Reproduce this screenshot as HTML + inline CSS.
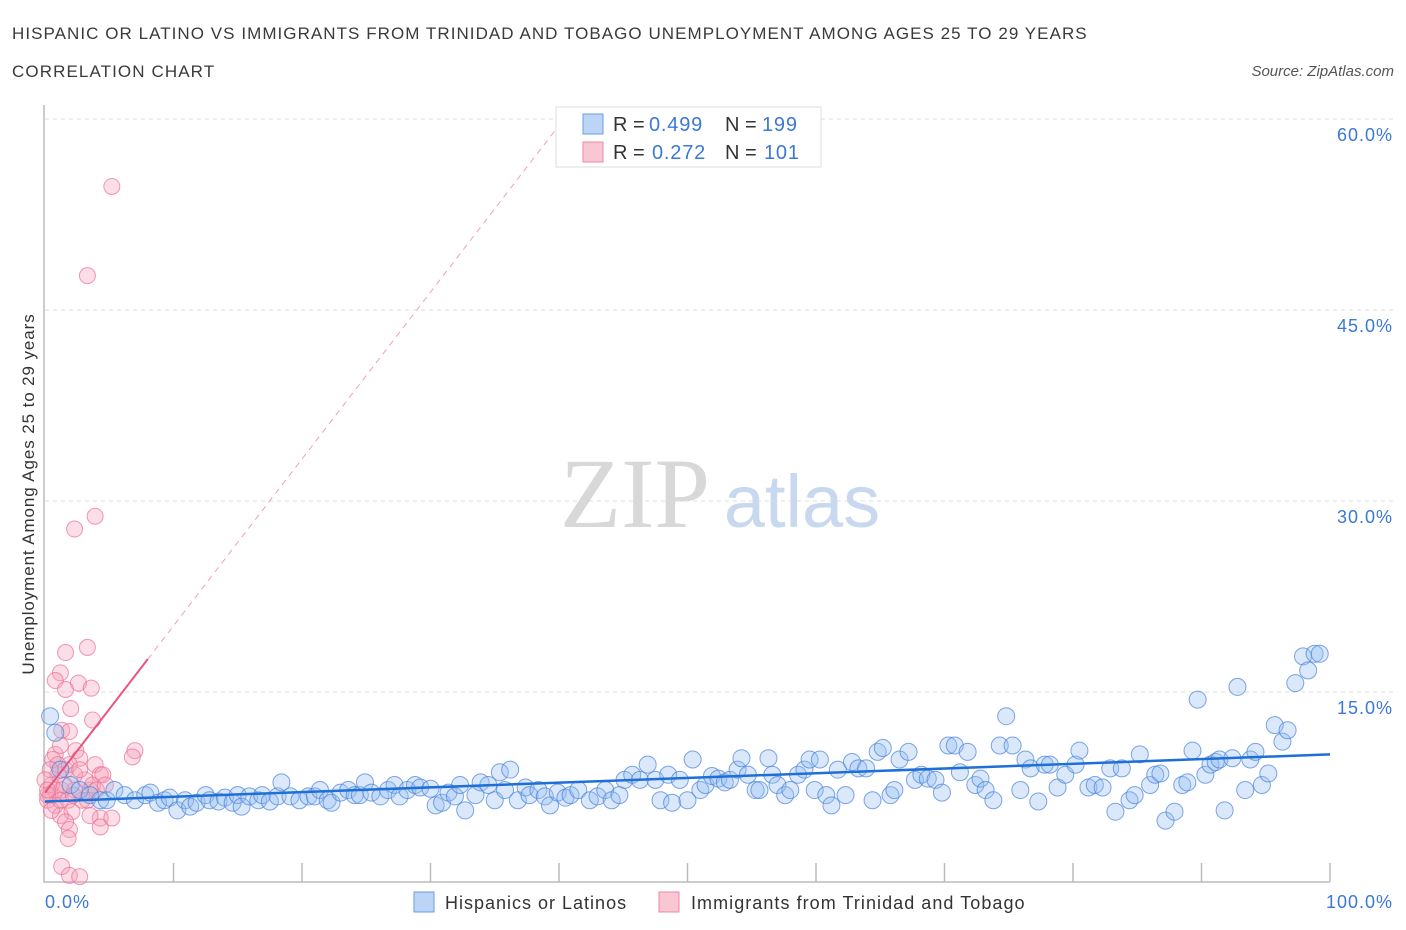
<!DOCTYPE html>
<html><head><meta charset="utf-8"><style>
body{margin:0;background:#fff;font-family:"Liberation Sans",sans-serif;}
svg{display:block}
</style></head><body>
<svg id="c" width="1406" height="930">
<text x="12" y="39" font-size="17" letter-spacing="1.05" fill="#3a3a3a">HISPANIC OR LATINO VS IMMIGRANTS FROM TRINIDAD AND TOBAGO UNEMPLOYMENT AMONG AGES 25 TO 29 YEARS</text>
<text x="12" y="77" font-size="17" letter-spacing="1.1" fill="#3a3a3a">CORRELATION CHART</text>
<text x="1394" y="76" font-size="15" fill="#555" font-style="italic" text-anchor="end">Source: ZipAtlas.com</text>
<g><text x="635" y="527" font-size="100" font-family="Liberation Serif,serif" fill="#d8d8d8" text-anchor="middle">ZIP</text><text x="802" y="527" font-size="74" fill="#c8d8ee" text-anchor="middle">atlas</text></g>
<g id="grid"></g><g id="marks"></g>
<text transform="translate(34,494) rotate(-90)" font-size="17" letter-spacing="0.9" fill="#333" text-anchor="middle">Unemployment Among Ages 25 to 29 years</text>
<text x="45" y="908" font-size="18" letter-spacing="1" fill="#3b78d8">0.0%</text>
<text x="1393" y="908" font-size="18" letter-spacing="1" fill="#3b78d8" text-anchor="end">100.0%</text>
<g>
<rect x="556" y="107" width="265" height="60" fill="#fff" stroke="#ddd"/>
<rect x="583" y="114" width="20" height="20" fill="#bcd4f6" stroke="#6a9be0"/>
<rect x="583" y="142" width="20" height="20" fill="#f9c6d4" stroke="#eb8aa5"/>
<g font-size="20" fill="#333">
<text x="613" y="131">R =</text><text x="649" y="131" fill="#3b78d8" letter-spacing="0.8">0.499</text>
<text x="725" y="131">N =</text><text x="762" y="131" fill="#3b78d8" letter-spacing="0.8">199</text>
<text x="613" y="159">R =</text><text x="652" y="159" fill="#3b78d8" letter-spacing="0.8">0.272</text>
<text x="725" y="159">N =</text><text x="764" y="159" fill="#3b78d8" letter-spacing="0.8">101</text>
</g>
</g>
<g>
<rect x="414" y="892" width="20" height="20" fill="#bcd4f6" stroke="#6a9be0"/>
<text x="445" y="909" font-size="18" letter-spacing="1" fill="#333">Hispanics or Latinos</text>
<rect x="659" y="892" width="20" height="20" fill="#f9c6d4" stroke="#eb8aa5"/>
<text x="691" y="909" font-size="18" letter-spacing="1.05" fill="#333">Immigrants from Trinidad and Tobago</text>
</g>
</svg>
<script>
const yTicks=[15,30,45,60];
const yTickLabels=["15.0%","30.0%","45.0%","60.0%"];
const blueX=[0.4,0.8,1.2,2.0,2.7,3.5,4.3,4.8,5.4,6.2,7.0,7.8,8.2,8.8,9.3,9.7,10.3,10.9,11.3,11.8,12.5,12.8,13.5,14.0,14.6,15.0,15.3,15.9,16.6,16.9,17.5,18.1,18.4,19.1,19.8,20.5,21.0,21.4,22.0,22.3,23.0,23.6,24.1,24.5,24.9,25.4,26.1,26.7,27.2,27.6,28.2,28.8,29.2,30.0,30.4,30.9,31.4,31.9,32.3,32.7,33.5,33.9,34.5,35.0,35.4,35.8,36.2,36.8,37.4,37.7,38.4,38.9,39.3,39.9,40.5,40.9,41.5,42.4,43.0,43.6,44.1,44.7,45.1,45.7,46.3,46.9,47.5,47.9,48.5,48.8,49.4,50.0,50.4,51.0,51.4,51.9,52.4,52.9,53.3,53.9,54.2,54.7,55.3,55.6,56.3,56.6,57.0,57.6,58.0,58.6,59.1,59.5,59.9,60.3,60.8,61.2,61.7,62.3,62.8,63.3,63.9,64.4,64.8,65.2,65.8,66.1,66.5,67.2,67.7,68.2,68.7,69.3,69.8,70.3,70.8,71.2,71.8,72.4,72.8,73.2,73.8,74.3,74.8,75.3,75.9,76.3,76.7,77.3,77.8,78.2,78.8,79.4,80.2,80.5,81.2,81.7,82.3,82.9,83.3,83.8,84.4,84.8,85.2,86.0,86.4,86.8,87.2,87.9,88.5,88.9,89.3,89.7,90.3,90.7,91.1,91.4,91.8,92.4,92.8,93.4,93.8,94.2,94.7,95.2,95.7,96.3,96.7,97.3,97.9,98.3,98.8,99.2];
const blueY=[13.1,11.8,8.9,7.7,7.3,6.9,6.5,6.5,7.3,6.9,6.5,6.9,7.1,6.3,6.5,6.7,5.7,6.5,6.0,6.3,6.9,6.5,6.4,6.7,6.3,6.9,6.0,6.8,6.5,6.9,6.4,6.8,7.9,6.8,6.5,6.8,6.8,7.3,6.5,6.3,7.1,7.3,6.9,6.9,7.9,7.1,6.8,7.3,7.7,6.8,7.3,7.7,7.5,7.4,6.1,6.3,7.1,6.8,7.7,5.7,6.9,7.9,7.7,6.5,8.7,7.3,8.9,6.5,7.5,6.9,7.3,6.8,6.1,7.1,6.7,6.9,7.3,6.5,6.8,7.3,6.5,6.9,8.1,8.5,8.1,9.3,8.1,6.5,8.5,6.3,8.1,6.5,9.7,7.3,7.7,8.4,8.2,7.9,8.1,8.9,9.8,8.5,7.3,7.3,9.8,8.5,7.7,6.9,7.3,8.5,8.9,9.7,7.3,9.7,6.9,6.1,8.9,6.9,9.5,9.0,9.0,6.5,10.3,10.6,6.9,7.3,9.7,10.3,8.1,8.5,8.2,8.1,7.1,10.8,10.8,8.7,10.3,7.7,8.2,7.3,6.5,10.8,13.1,10.8,7.3,9.7,9.0,6.4,9.3,9.3,7.5,8.5,9.3,10.4,7.5,7.7,7.5,9.0,5.6,9.0,6.5,6.9,10.1,7.7,8.5,8.6,4.9,5.6,7.7,7.9,10.4,14.4,8.5,9.3,9.5,9.7,5.7,9.8,15.4,7.3,9.7,10.3,7.7,8.6,12.4,11.1,12.0,15.7,17.8,16.7,18.0,18.0];
const pinkX=[5.2,3.3,2.3,3.9,3.3,1.6,1.2,0.8,2.6,1.6,3.6,2.0,3.7,1.3,1.9,7.0,6.8,2.4,2.7,0.8,1.2,3.9,4.3,3.5,3.1,1.0,0.5,0.4,0.2,0.8,1.3,1.8,2.1,1.2,1.6,1.9,1.8,2.3,2.9,3.3,3.7,4.0,4.5,4.7,4.3,3.5,5.2,4.3,1.3,1.9,2.7,0.6,1.0,1.6,1.9,2.3,2.7,0.4,0.8,0,0.2,0.5,0.2,1.2,1.5,2.2];
const pinkY=[54.7,47.7,27.8,28.8,18.5,18.1,16.5,15.9,15.7,15.2,15.3,13.7,12.8,12.0,11.9,10.4,9.9,10.4,9.8,10.1,10.8,9.3,8.5,7.3,8.1,8.5,7.7,6.9,6.5,6.1,7.3,6.5,5.6,5.3,4.8,4.2,3.5,7.3,6.5,6.5,7.7,7.3,8.5,7.7,5.1,5.3,5.1,4.4,1.3,0.6,0.5,9.7,9.3,8.9,9.3,8.5,8.9,8.9,7.3,8.1,6.9,5.7,7.3,6.5,7.7,6.9];
const blueTrend=[6.4,10.1];
const pinkTrend=[7.1,1.31];
const X0=45,X1=1330,Y0=883,YS=191/15;
const sx=v=>X0+(X1-X0)*v/100, sy=v=>Y0-v*YS;
const NS="http://www.w3.org/2000/svg";
function mk(p,t,a){const e=document.createElementNS(NS,t);for(const k in a)e.setAttribute(k,a[k]);p.appendChild(e);return e;}
const g=document.getElementById('grid'),m=document.getElementById('marks');
yTicks.forEach((t,i)=>{
 const l=mk(g,'line',{x1:X0,x2:1395,y1:sy(t),y2:sy(t),stroke:'#ddd','stroke-dasharray':'4,4'});
 
 
 const tx=mk(g,'text',{x:1393,y:sy(t)+22,'font-size':18,'letter-spacing':1,fill:'#3b78d8','text-anchor':'end'});
 tx.textContent=yTickLabels[i];
 
 
});
const ax=mk(g,'path',{d:`M${X0-1} 105 V${Y0-1} H${X1}`,stroke:'#bbb',fill:'none','stroke-width':1.5});


for(let i=1;i<=10;i++){const t=mk(g,'line',{x1:sx(i*10),x2:sx(i*10),y1:Y0-1,y2:Y0-20,stroke:'#bbb','stroke-width':1.5});
 
 }
pinkX.forEach((x,i)=>{const c=mk(m,'circle',{cx:sx(x),cy:sy(pinkY[i]),r:8,fill:'rgba(244,160,185,0.35)',stroke:'rgba(235,110,145,0.7)','stroke-width':1});
 
 });
blueX.forEach((x,i)=>{const c=mk(m,'circle',{cx:sx(x),cy:sy(blueY[i]),r:8.5,fill:'rgba(150,190,240,0.35)',stroke:'rgba(70,130,220,0.7)','stroke-width':1});
 
 });
const bt=mk(m,'line',{x1:sx(0),y1:sy(blueTrend[0]),x2:sx(100),y2:sy(blueTrend[1]),stroke:'#1f6fd8','stroke-width':2.5});


const pd=mk(m,'line',{x1:sx(8),y1:sy(pinkTrend[0]+8*pinkTrend[1]),x2:sx(39.7),y2:sy(pinkTrend[0]+39.7*pinkTrend[1]),stroke:'#f0a0b5','stroke-width':1,'stroke-dasharray':'6,5'});


const pt=mk(m,'line',{x1:sx(0),y1:sy(pinkTrend[0]),x2:sx(8),y2:sy(pinkTrend[0]+8*pinkTrend[1]),stroke:'#e8557e','stroke-width':2});


</script>
</body></html>
